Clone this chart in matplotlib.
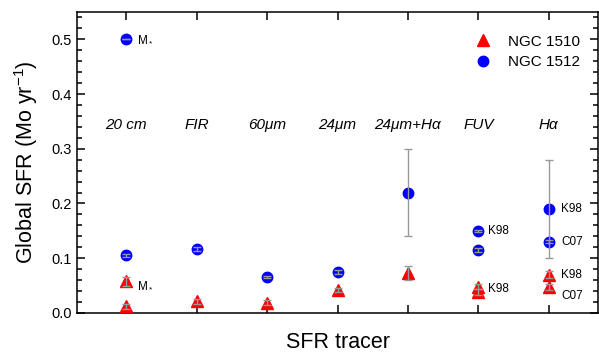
import matplotlib
matplotlib.use("Agg")
import matplotlib.pyplot as plt
from matplotlib.ticker import MultipleLocator

plt.rcParams['font.family'] = ['Liberation Sans', 'DejaVu Sans']
plt.rcParams['mathtext.fontset'] = 'custom'
plt.rcParams['mathtext.rm'] = 'Liberation Sans'
plt.rcParams['mathtext.it'] = 'Liberation Sans:italic'

# tracers
tracers = ['20 cm', 'FIR', '60μm', '24μm', '24μm+Hα', 'FUV', 'Hα']
tracer_x = [1, 2, 3, 4, 5, 6, 7]

# NGC 1510 (red triangles)
x1510 = [1, 1, 2, 3, 4, 5, 6, 6, 7, 7]
sfr1510 = [0.012, 0.058, 0.021, 0.019, 0.042, 0.073, 0.048, 0.038, 0.070, 0.047]
err1510 = [0.005, 0.008, 0.004, 0.004, 0.003, 0.013, 0.005, 0.005, 0.007, 0.005]

# NGC 1512 (blue circles)
x1512 = [1, 1, 2, 3, 4, 5, 6, 6, 7, 7]
sfr1512 = [0.105, 0.500, 0.117, 0.066, 0.075, 0.220, 0.150, 0.115, 0.190, 0.130]
err1512 = [0.003, 0.0, 0.003, 0.002, 0.004, 0.080, 0.002, 0.003, 0.090, 0.003]

# labels next to points: (x, y, text, dx, dy) offsets in points
notes = [
    (1, 0.500, 'M$_*$', 8, 0),
    (1, 0.058, 'M$_*$', 8, -3),
    (6, 0.150, 'K98', 7, 0),
    (6, 0.043, 'K98', 7, 0),
    (7, 0.190, 'K98', 9, 0),
    (7, 0.130, 'C07', 9, 0),
    (7, 0.070, 'K98', 9, 0),
    (7, 0.047, 'C07', 9, -6),
]

fig = plt.figure(figsize=(5.99, 3.52), dpi=100)
ax = fig.add_axes([0.1285, 0.111, 0.870, 0.855])

ax.plot(x1510, sfr1510, '^', color='red', ms=8, ls='none', label='NGC 1510', zorder=3)
ax.plot(x1512, sfr1512, 'o', color='blue', ms=7.5, ls='none', label='NGC 1512', zorder=3)
ax.errorbar(x1510, sfr1510, yerr=err1510, fmt='none', ecolor='#999999',
            elinewidth=1, capsize=3, capthick=1, zorder=4)
ax.errorbar(x1512, sfr1512, yerr=err1512, fmt='none', ecolor='#999999',
            elinewidth=1, capsize=3, capthick=1, zorder=4)

for x, t in zip(tracer_x, tracers):
    ax.text(x, 0.343, t, style='italic', fontsize=11, ha='center', va='center')

for x, y, t, dx, dy in notes:
    ax.annotate(t, (x, y), xytext=(dx, dy), textcoords='offset points',
                fontsize=8.5, va='center', ha='left')

ax.set_xlim(0.3, 7.7)
ax.set_ylim(0, 0.55)
ax.set_xticks(tracer_x)
ax.set_xticklabels([])
ax.set_yticks([0, 0.1, 0.2, 0.3, 0.4, 0.5])
ax.set_yticklabels(['0.0', '0.1', '0.2', '0.3', '0.4', '0.5'])
ax.yaxis.set_minor_locator(MultipleLocator(0.02))
for s in ax.spines.values():
    s.set_linewidth(1.1)
ax.tick_params(axis='both', which='both', direction='in', top=True, right=True,
               labelsize=10.5, width=1.1)
ax.tick_params(axis='both', which='major', length=6)
ax.tick_params(axis='y', which='minor', length=3.5)

ax.set_xlabel('SFR tracer', fontsize=15.5, labelpad=10)
ax.set_ylabel('Global SFR (Mo yr$^{-1}$)', fontsize=15.5, labelpad=8)

ax.legend(loc='upper right', bbox_to_anchor=(1.0, 0.985), frameon=False,
          fontsize=11, handletextpad=0.9, borderaxespad=0.8, handlelength=1.5,
          labelspacing=0.4)

fig.savefig('out.png', dpi=100)
